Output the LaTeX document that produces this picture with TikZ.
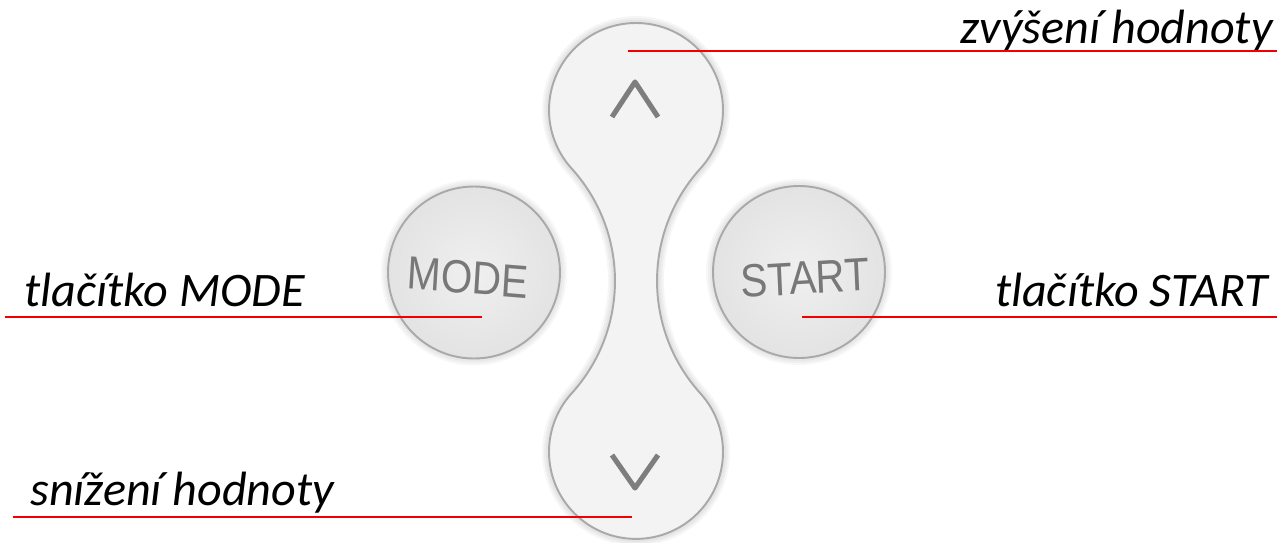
\documentclass[tikz,border=0pt]{standalone}
\usepackage{fontspec}
\setmainfont{Carlito}
\newfontfamily\btnfont{Liberation Sans}
\definecolor{padfill}{HTML}{F3F3F3}
\definecolor{padline}{HTML}{A9A9A9}
\definecolor{btnfill}{HTML}{ECECEC}
\definecolor{btntext}{HTML}{787878}
\definecolor{chev}{HTML}{7E7E7E}
\definecolor{leadred}{HTML}{F00000}
\tikzset{
  lbl/.style={font=\fontsize{27.4}{30}\selectfont\itshape, inner sep=0pt, text=black},
  btnlbl/.style={font=\btnfont\fontsize{23}{24}\selectfont, text=btntext, inner sep=0pt, yscale=1.15},
  leader/.style={draw=leadred, line width=1.2pt},
  chevron/.style={draw=chev, line width=2.9pt, line join=round},
  btnbox/.style={circle, minimum size=172*0.02cm, inner sep=0pt, draw=padline, line width=1.1pt, inner color=white!94!black, outer color=white!89!black},
}
\def\padpath{(636,432) ++(-42.2:87) arc[start angle=-42.2, end angle=222.2, radius=87]
  arc[start angle=42.2, end angle=-42.2, radius=167.5]
  arc[start angle=137.8, end angle=402.2, radius=87]
  arc[start angle=222.2, end angle=137.8, radius=167.5] -- cycle}
\begin{document}
\begin{tikzpicture}[x=0.02cm,y=0.02cm]
\useasboundingbox (0,0) rectangle (1277,542);
% pad shadow
\foreach \w in {14,10,6}{
  \draw[black, opacity=0.035, line width=\w*0.5669pt] \padpath;
}
\path[fill=padfill, draw=padline, line width=1.1pt] \padpath;
% chevrons
\coordinate (upA) at (612,425);
\coordinate (upB) at (635,460);
\coordinate (upC) at (658,425);
\draw[chevron] (upA) -- (upB) -- (upC);
\coordinate (dnA) at (612,87);
\coordinate (dnB) at (635,54);
\coordinate (dnC) at (658,87);
\draw[chevron] (dnA) -- (dnB) -- (dnC);
% button shadows
\foreach \c in {(474,269.5),(799,270)}{
  \foreach \k in {7,5,3}{
    \fill[black, opacity=0.03] \c circle[radius=86+\k];
  }
}
\node[btnbox] (mode) at (474,269.5) {};
\node[btnbox] (start) at (799,270) {};
\node[btnlbl, rotate=-4] (modetxt) at (468,264.5) {MODE};
\node[btnlbl, rotate=3] (starttxt) at (805,264) {START};
% labels
\node[lbl, anchor=base east] (lup) at (1273,499) {zvýšení hodnoty};
\node[lbl, anchor=base west] (lmode) at (24,235.3) {tlačítko MODE};
\node[lbl, anchor=base east] (lstart) at (1268,235.3) {tlačítko START};
\node[lbl, anchor=base west] (ldown) at (30,36.3) {snížení hodnoty};
% leader lines
\coordinate (upTip) at (628,490.8);
\coordinate (upEnd) at (1277,490.8);
\coordinate (modeTip) at (482,224.7);
\coordinate (modeEnd) at (5,224.7);
\coordinate (startTip) at (802,224.7);
\coordinate (startEnd) at (1277,224.7);
\coordinate (dnTip) at (632,25.3);
\coordinate (dnEnd) at (13,25.3);
\draw[leader] (upTip) -- (upEnd);
\draw[leader] (modeEnd) -- (modeTip);
\draw[leader] (startTip) -- (startEnd);
\draw[leader] (dnEnd) -- (dnTip);
\end{tikzpicture}
\end{document}
